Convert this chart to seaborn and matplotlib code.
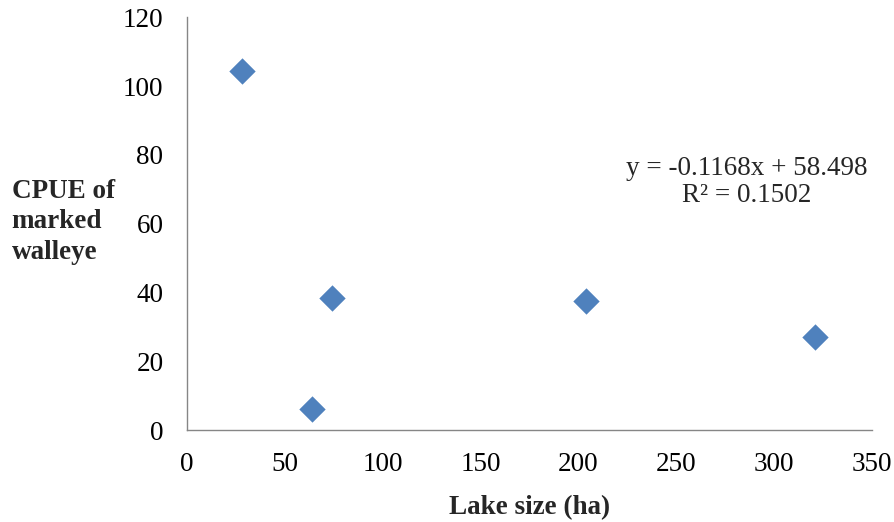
import matplotlib
matplotlib.use("Agg")
import matplotlib.pyplot as plt
import seaborn as sns
import pandas as pd

# values
lake_size = [28, 64, 74, 204, 321]
cpue = [104.5, 6.0, 38.3, 37.4, 27.0]

df = pd.DataFrame({"lake_size": lake_size, "cpue": cpue})

sns.set_style("white")
plt.rcParams['font.family'] = ['Liberation Serif', 'DejaVu Serif']

fig = plt.figure(figsize=(8.95, 5.22), dpi=100)
ax = fig.add_axes([0.209, 0.176, 0.765, 0.791])

sns.scatterplot(data=df, x="lake_size", y="cpue", marker="D", s=180,
                color="#4F81BD", edgecolor="#4F81BD", linewidth=0, ax=ax)

ax.set_xlim(0, 350)
ax.set_ylim(0, 120)
ax.set_xticks(range(0, 351, 50))
ax.set_yticks(range(0, 121, 20))
ax.tick_params(axis="both", labelsize=19.5, direction="out", length=5,
               width=1, color="#868686", labelcolor="black")
ax.tick_params(axis="y", pad=12)
ax.tick_params(axis="x", pad=11)
for side in ["top", "right"]:
    ax.spines[side].set_visible(False)
for side in ["left", "bottom"]:
    ax.spines[side].set_color("#868686")
    ax.spines[side].set_linewidth(1)

ax.set_xlabel("Lake size (ha)", fontsize=19.5, fontweight="bold", labelpad=13)
ax.set_ylabel("")
fig.text(0.013, 0.575, "CPUE of\nmarked\nwalleye", fontsize=19.5,
         fontweight="bold", ha="left", va="center", linespacing=1.3)

ax.text(0.8175, 0.60, "y = -0.1168x + 58.498\nR² = 0.1502", transform=ax.transAxes,
        fontsize=19.5, ha="center", va="center", linespacing=1.1)

fig.savefig("out.png", dpi=100)
